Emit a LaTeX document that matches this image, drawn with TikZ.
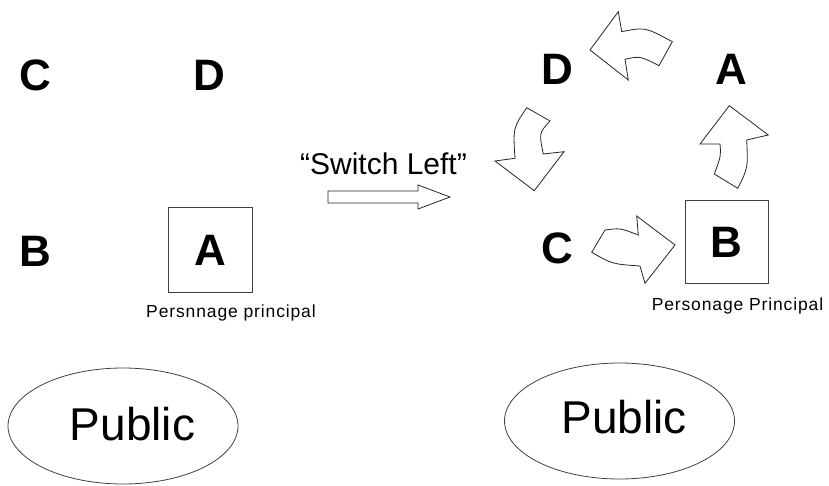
\documentclass[tikz,border=0pt]{standalone}
\usepackage{fontspec}
\setmainfont{Liberation Sans}
\usetikzlibrary{shapes.geometric, positioning}

\begin{document}
\begin{tikzpicture}[x=1pt, y=-1pt,
	letter/.style={font=\fontsize{44}{44}\selectfont\bfseries, inner sep=0pt},
	perso/.style={draw=black!75, line width=1pt, minimum size=84pt, inner sep=0pt, letter},
	caption/.style={font=\fontsize{17.5}{17.5}\selectfont\addfontfeature{LetterSpace=5}, inner sep=0pt, anchor=base},
	crowd/.style={draw=black!75, line width=0.8pt, ellipse, minimum width=230pt, minimum height=116pt},
	crowdtext/.style={font=\fontsize{46}{46}\selectfont, inner sep=0pt},
	turn/.style={draw=black!85, line width=0.8pt, fill=white, line join=miter}]

	\useasboundingbox (0,0) rectangle (829,486);

	% before
	\node [letter] (LC) at (35,75) {C};
	\node [letter] (LD) at (209,75) {D};
	\node [letter] (LB) at (35,251) {B};
	\node [perso] (LA) at (210,250) {A};
	\node [caption] (LAcap) at (231,317) {Persnnage principal};

	\node [crowd] (LPub) at (123,426) {};
	\node [crowdtext] at ([xshift=9.5pt, yshift=1.5pt]LPub.center) {Public};

	% switch
	\node [caption, font=\fontsize{30}{30}\selectfont] (SW) at (383.5,175) {``Switch Left''};
	\draw [turn] (328,191) -- (418,191) -- (418,185) -- (450,197) -- (418,209) -- (418,203) -- (328,203) -- cycle;

	% after
	\node [letter] (RD) at (557.5,69) {D};
	\node [letter] (RA) at (731.5,69) {A};
	\node [letter] (RC) at (557.5,248.5) {C};
	\node [perso, minimum size=83pt] (RB) at (726.5,242) {B};
	\node [caption] (RBcap) at (737.5,310) {Personage Principal};

	\node [crowd] (RPub) at (619.5,421) {};
	\node [crowdtext] at ([xshift=4.5pt, yshift=3.5pt]RPub.center) {Public};

	% rotation arrows
	\draw [turn] (591.7,252.3) -- (605,230) .. controls (620,228) .. (638.3,235)
		-- (636.7,216) -- (675,245) -- (645,283.3) -- (640,266)
		.. controls (612,264) .. cycle;
	\draw [turn] (714.3,174) .. controls (721,156) .. (720,144)
		-- (700,144) -- (729.3,105.7) -- (768.3,135) -- (746.7,140)
		.. controls (748,168) .. (737.7,188.3) -- cycle;
	\draw [turn] (659,65.7) .. controls (640,56) .. (625,59.3)
		-- (628.3,80) -- (590,50) -- (618.3,11.7) -- (621.7,31.7)
		.. controls (645,27) .. (672.3,41.7) -- cycle;
	\draw [turn] (550,121) -- (526.7,107.7) .. controls (513,128) .. (515,158.3)
		-- (495,161) -- (534.3,190.7) -- (564,151.7) -- (543.3,154)
		.. controls (539,133) .. cycle;

\end{tikzpicture}
\end{document}
